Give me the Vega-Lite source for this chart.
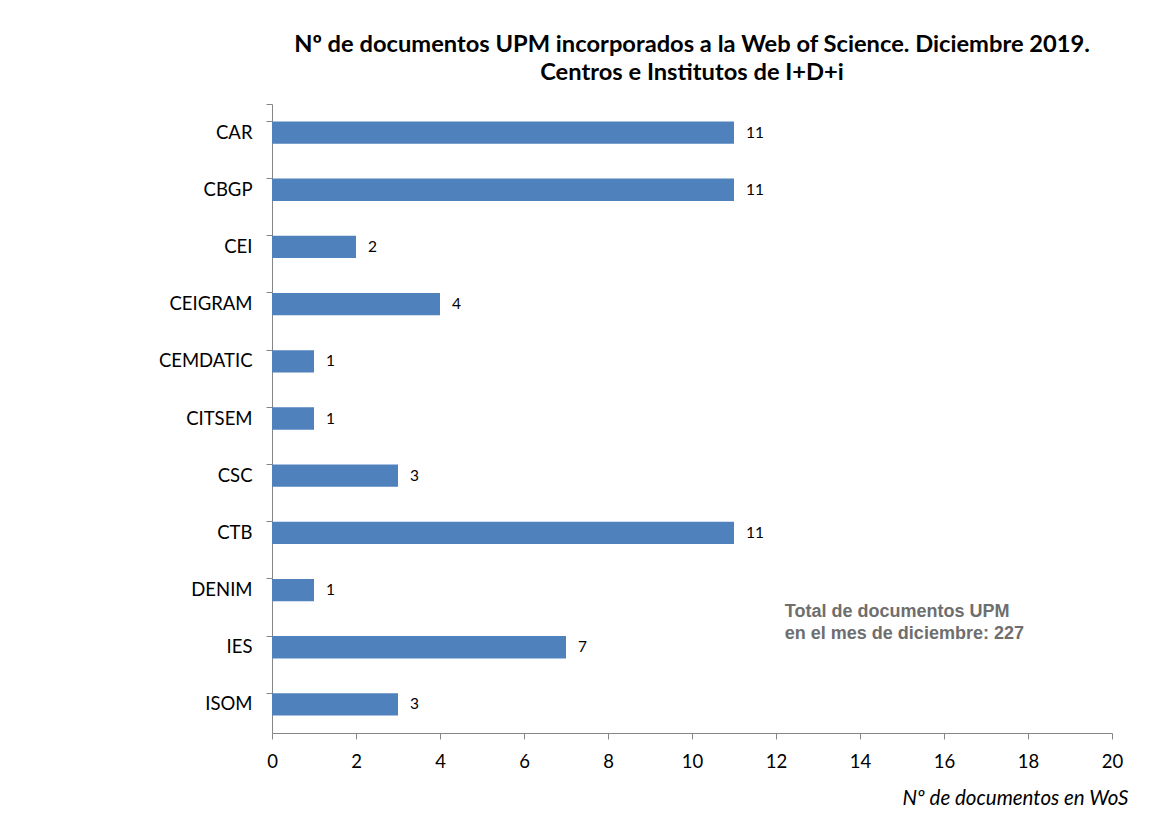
{
  "$schema": "https://vega.github.io/schema/vega-lite/v6.json",
  "width": 840,
  "height": 629,
  "autosize": {"type": "none"},
  "padding": {"left": 272, "top": 104, "right": 39, "bottom": 85},
  "background": "white",
  "config": {
    "view": {"stroke": null},
    "font": "Lato"
  },
  "title": {
    "text": ["Nº de documentos UPM incorporados a la Web of Science. Diciembre 2019.", "Centros e Institutos de I+D+i"],
    "font": "Lato",
    "fontSize": 23.7,
    "fontWeight": "bold",
    "color": "#000000",
    "anchor": "middle",
    "lineHeight": 28,
    "offset": 10
  },
  "data": {
    "values": [
      {"centro": "CAR", "docs": 11},
      {"centro": "CBGP", "docs": 11},
      {"centro": "CEI", "docs": 2},
      {"centro": "CEIGRAM", "docs": 4},
      {"centro": "CEMDATIC", "docs": 1},
      {"centro": "CITSEM", "docs": 1},
      {"centro": "CSC", "docs": 3},
      {"centro": "CTB", "docs": 11},
      {"centro": "DENIM", "docs": 1},
      {"centro": "IES", "docs": 7},
      {"centro": "ISOM", "docs": 3}
    ]
  },
  "encoding": {
    "y": {
      "field": "centro",
      "type": "nominal",
      "sort": null,
      "scale": {"paddingInner": 0.61, "paddingOuter": 0.305},
      "axis": {
        "title": null,
        "bandPosition": 0,
        "tickExtra": true,
        "domainColor": "#868686",
        "tickColor": "#868686",
        "tickSize": 6,
        "labelFontSize": 18.5,
        "labelColor": "#000000",
        "labelPadding": 14,
        "labelFont": "Lato"
      }
    },
    "x": {
      "field": "docs",
      "type": "quantitative",
      "scale": {"domain": [0, 20], "nice": false},
      "axis": {
        "title": "Nº de documentos en WoS",
        "titleFontStyle": "italic",
        "titleFontWeight": "normal",
        "titleFontSize": 20.5,
        "titleFont": "Lato",
        "titleColor": "#000000",
        "titleAnchor": "end",
        "titleAlign": "right",
        "titleBaseline": "alphabetic",
        "titleX": 856,
        "titleY": 71,
        "values": [0, 2, 4, 6, 8, 10, 12, 14, 16, 18, 20],
        "grid": false,
        "domainColor": "#868686",
        "tickColor": "#868686",
        "tickSize": 6,
        "labelFontSize": 18.5,
        "labelColor": "#000000",
        "labelPadding": 13,
        "labelFont": "Lato",
        "labelFlush": false
      }
    }
  },
  "layer": [
    {"mark": {"type": "bar", "color": "#4F81BD"}},
    {
      "mark": {"type": "text", "align": "left", "baseline": "middle", "dx": 12, "fontSize": 15.5, "color": "#000000", "font": "Lato"},
      "encoding": {"text": {"field": "docs", "type": "quantitative"}}
    },
    {
      "data": {"values": [{"label": ["Total de documentos UPM", "en el mes de diciembre: 227"], "xpos": 12.21, "cat": "DENIM"}]},
      "mark": {"type": "text", "align": "left", "baseline": "middle", "dy": 22, "fontSize": 18, "fontWeight": "bold", "font": "Liberation Sans", "color": "#6e6e6e", "lineHeight": 22},
      "encoding": {
        "x": {"field": "xpos", "type": "quantitative"},
        "y": {"field": "cat", "type": "nominal"},
        "text": {"field": "label"}
      }
    }
  ]
}
